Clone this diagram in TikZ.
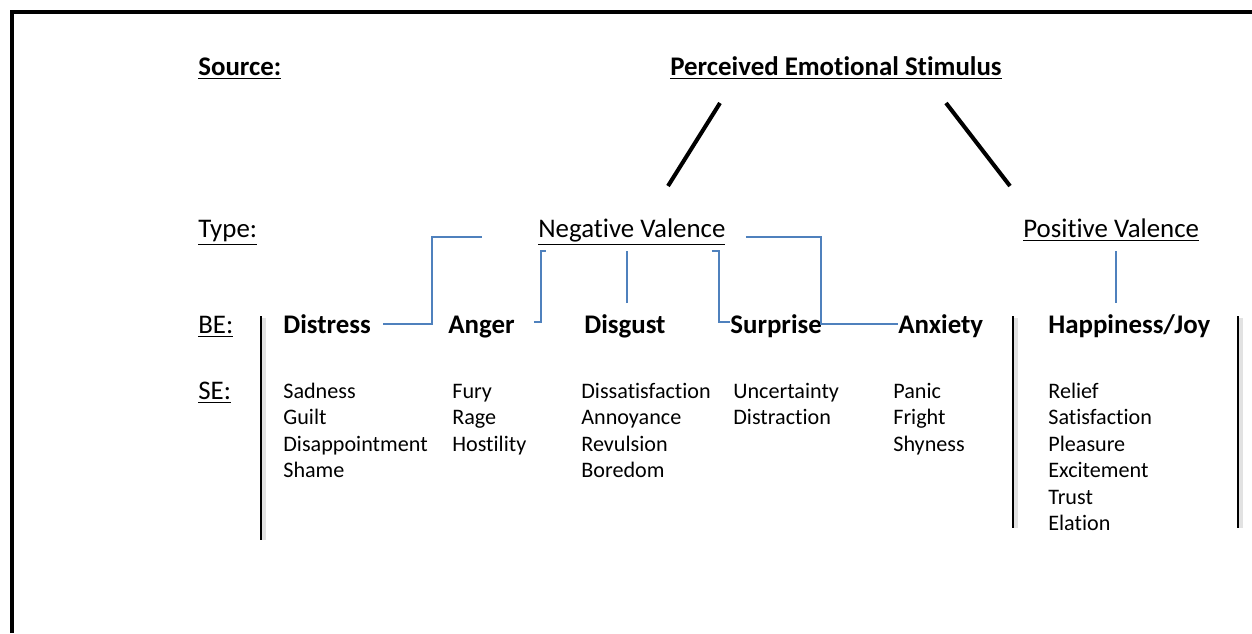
\documentclass[tikz,border=0pt]{standalone}
\usepackage{fontspec}
\setmainfont{Carlito}[Ligatures=NoCommon]
\usetikzlibrary{calc,positioning}
\definecolor{linkblue}{HTML}{4F81BD}
\definecolor{sepgray}{HTML}{E2E2E2}

\begin{document}
\begin{tikzpicture}[x=0.02cm, y=-0.02cm,
  lbl/.style={inner sep=0pt, anchor=west, text height=9.85pt, text depth=0pt,
              font=\fontsize{15.3}{18}\selectfont},
  head/.style={lbl, font=\fontsize{15.3}{18}\selectfont\bfseries},
  sub/.style={inner sep=0pt, anchor=west, text height=8.1pt, text depth=0pt,
              font=\fontsize{12.6}{15}\selectfont},
  link/.style={draw=linkblue, line width=0.85pt},
  stem/.style={line width=2.3pt},
  sep/.style={line width=0.9pt}]
  \useasboundingbox (0,0) rectangle (1252,633);
  % frame
  \draw[line width=2.6pt] (12,633) -- (12,12) -- (1252,12);

  % row labels
  \node[head] (source) at (198,67)  {\underline{Source:}};
  \node[lbl]  (type)   at (198,229) {\underline{Type:}};
  \node[lbl]  (berow)  at (198,325) {\underline{BE:}};
  \node[lbl]  (serow)  at (198,391) {\underline{SE:}};

  % source and types
  \node[head] (stim)   at (670,67)   {\underline{Perceived Emotional Stimulus}};
  \node[lbl]  (negval) at (538,229)  {\underline{Negative Valence}};
  \node[lbl]  (posval) at (1023,229) {\underline{Positive Valence}};
  \draw[stem] ($(stim.south)+(-116,27)$) -- ++(-52,83);
  \draw[stem] ($(stim.south)+(110,27)$) -- ++(64,83);

  % basic emotions
  \node[head] (distress) at (283,325)  {Distress};
  \node[head] (anger)    at (448,325)  {Anger};
  \node[head] (disgust)  at (584,325)  {Disgust};
  \node[head] (surprise) at (730,325)  {Surprise};
  \node[head] (anxiety)  at (898,325)  {Anxiety};
  \node[head] (happy)    at (1048,325) {Happiness/Joy};

  % separators
  \foreach \x/\b in {261/540,1013/528,1238/528}{
    \draw[sepgray, line width=2pt] (\x+3,318) -- (\x+3,\b);
    \draw[sep] (\x,316) -- (\x,\b);
  }

  % links to the valences
  \draw[link] ($(distress.east)+(12,-1)$) -| ($(negval.west)+(-106,8)$) -- ++(50,0);
  \draw[link] ($(anger.east)+(19,-3)$) -- ++(7,0) |- ($(negval.south west)+(8,13)$);
  \draw[link] ($(disgust.north)+(2,-13)$) -- ++(0,-52);
  \draw[link] ($(negval.south east)+(-14,13)$) -- ++(7,0) |- ($(surprise.west)+(0,-3)$);
  \draw[link] ($(negval.east)+(20,8)$) -- ++(75,0) |- ($(anxiety.west)+(0,-1)$);
  \draw[link] ($(posval.south)+(5,13)$) -- ++(0,52);

  % secondary emotions
  \foreach \w [count=\k] in {Sadness,Guilt,Disappointment,Shame}
    \node[sub] (sea\k) at (283,{391+26.5*(\k-1)}) {\w};
  \foreach \w [count=\k] in {Fury,Rage,Hostility}
    \node[sub] (seb\k) at (452,{391+26.5*(\k-1)}) {\w};
  \foreach \w [count=\k] in {Dissatisfaction,Annoyance,Revulsion,Boredom}
    \node[sub] (sec\k) at (581,{391+26.5*(\k-1)}) {\w};
  \foreach \w [count=\k] in {Uncertainty,Distraction}
    \node[sub] (sed\k) at (733,{391+26.5*(\k-1)}) {\w};
  \foreach \w [count=\k] in {Panic,Fright,Shyness}
    \node[sub] (see\k) at (893,{391+26.5*(\k-1)}) {\w};
  \foreach \w [count=\k] in {Relief,Satisfaction,Pleasure,Excitement,Trust,Elation}
    \node[sub] (sef\k) at (1048,{391+26.5*(\k-1)}) {\w};
\end{tikzpicture}
\end{document}
